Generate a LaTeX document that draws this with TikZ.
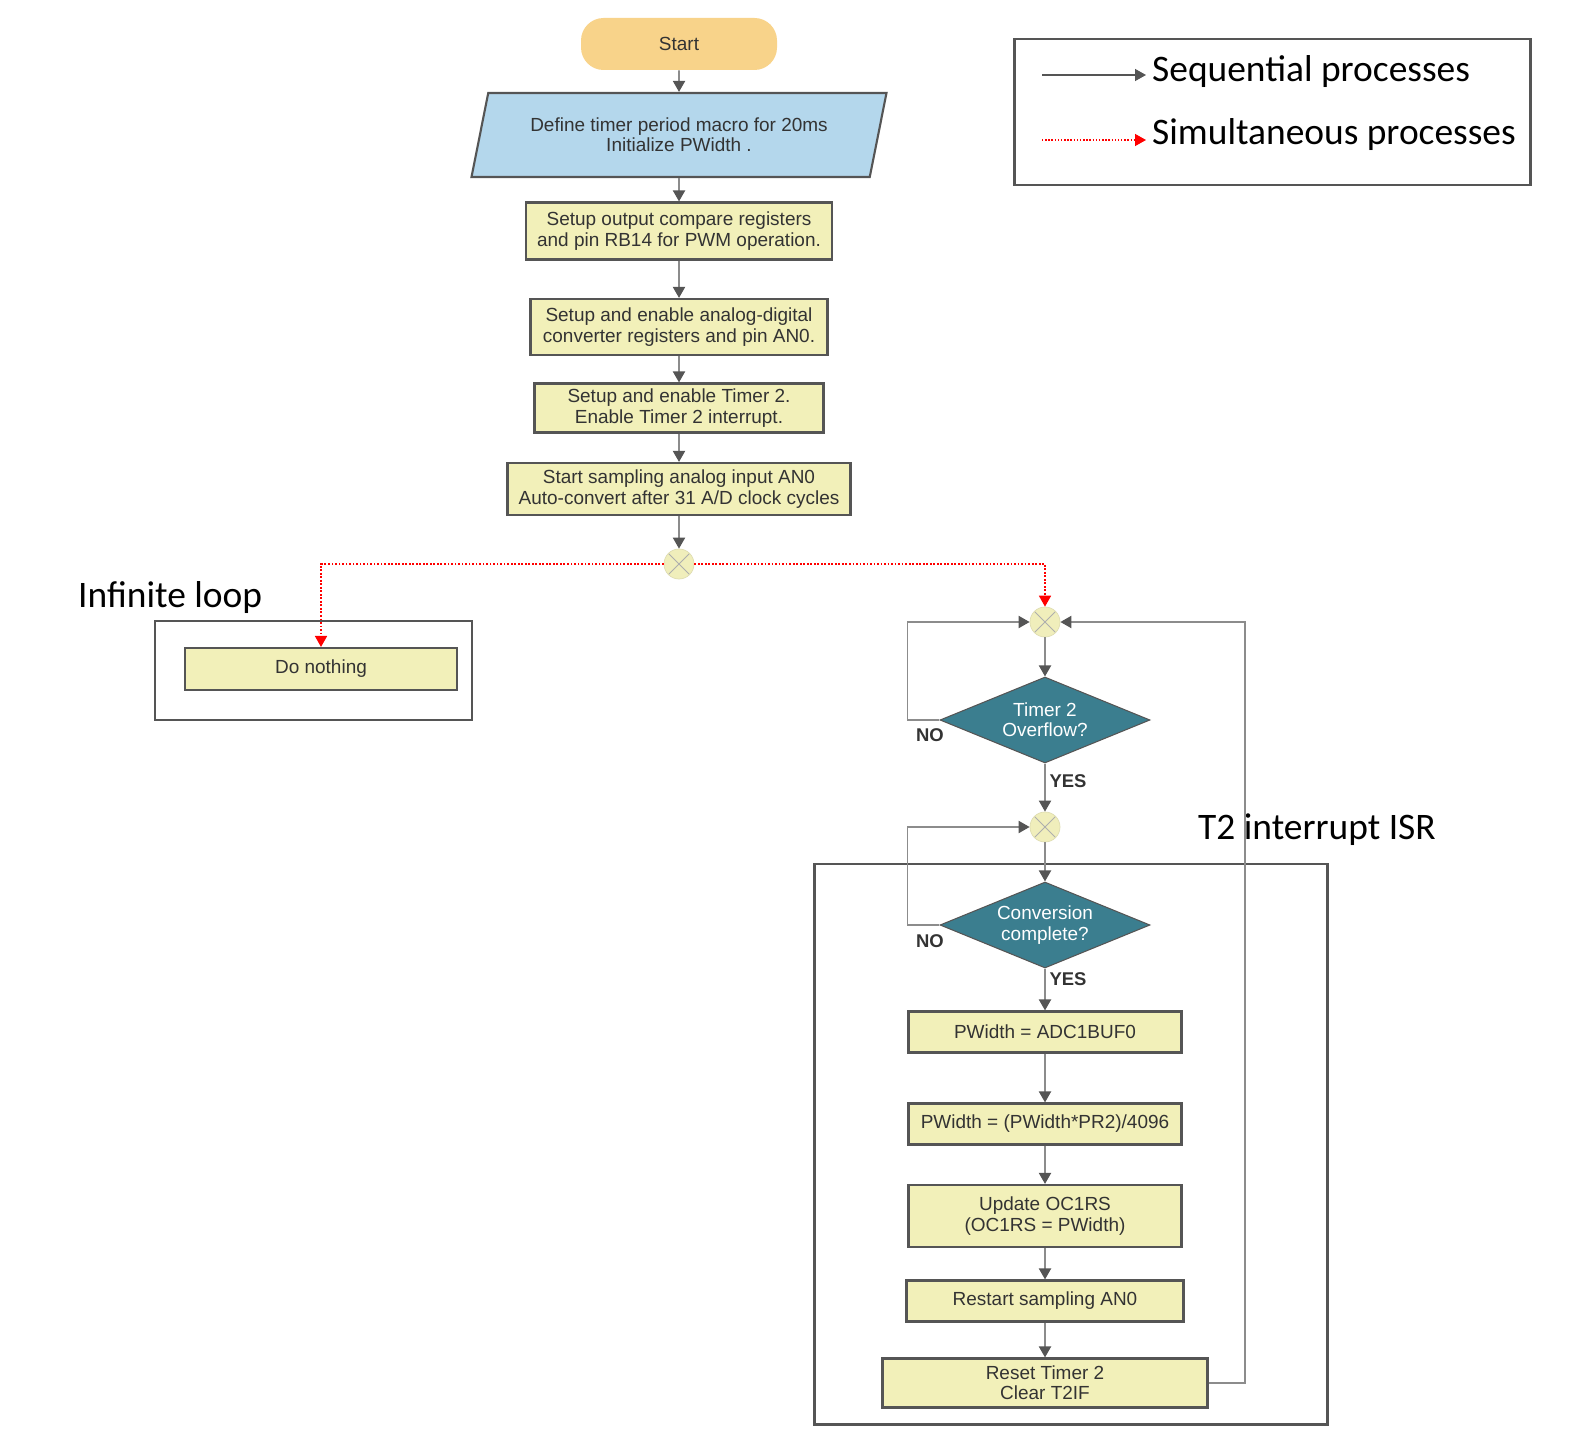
\documentclass[tikz,border=0pt]{standalone}
\usepackage{fontspec}
\setmainfont{Liberation Sans}
\newfontfamily\calibri{Carlito}
\usepackage{tikz}
\usetikzlibrary{positioning,shapes,arrows,arrows.meta,calc}
\definecolor{startorange}{HTML}{F8D38A}
\definecolor{ioblue}{HTML}{B4D7EC}
\definecolor{boxyellow}{HTML}{F2F0B9}
\definecolor{decteal}{HTML}{3B7E8F}
\definecolor{joinyellow}{HTML}{F0EEBB}
\definecolor{edgegray}{HTML}{555555}
\definecolor{linegray}{HTML}{8C8C8C}
\definecolor{textdark}{HTML}{333333}

\begin{document}
\begin{tikzpicture}[x=0.2mm, y=-0.2mm,
  font=\fontsize{10.8}{11.6}\selectfont,
  flow/.style={draw=linegray, line width=1.1pt, -{Triangle[length=2.2mm, width=2.4mm, color=edgegray]}},
  simul/.style={draw=red, densely dotted, line width=1pt, -{Triangle[length=2.2mm, width=2.4mm, color=red]}},
  process/.style={draw=edgegray, fill=boxyellow, line width=1.2pt, text=textdark, align=center, inner sep=0.5mm},
  term/.style={fill=startorange, rounded corners=4.5mm, text=textdark, minimum width=39.2mm, minimum height=10.4mm},
  io/.style={trapezium, trapezium left angle=70, trapezium right angle=110, trapezium stretches body,
    draw=edgegray, fill=ioblue, line width=1.2pt, text=textdark, align=center, minimum width=83mm, minimum height=16.8mm},
  decision/.style={diamond, aspect=2.44, fill=decteal, draw=edgegray, line width=0.6pt, text=white, align=center, inner sep=0,
    minimum width=42mm, minimum height=17.2mm},
  junction/.style={circle, fill=joinyellow, draw=joinyellow!85!gray, minimum size=6mm, inner sep=0,
    path picture={\draw[linegray!70, line width=0.5pt]
      ($(path picture bounding box.center)+(-2.1mm,-2.1mm)$) -- ($(path picture bounding box.center)+(2.1mm,2.1mm)$)
      ($(path picture bounding box.center)+(-2.1mm,2.1mm)$) -- ($(path picture bounding box.center)+(2.1mm,-2.1mm)$);}},
  answer/.style={font=\fontsize{10.5}{11}\selectfont\bfseries, text=textdark},
  frame/.style={draw=edgegray, line width=1.7pt},
  bigtext/.style={font=\calibri\fontsize{21.3}{24}\selectfont, text=black}]
  \useasboundingbox (0,0) rectangle (1576,1438);

  % initialisation
  \node[term] (start) at (679,44) {Start};
  \node[io] (define) at (679,135) {Define timer period macro for 20ms\\Initialize PWidth .};
  \node[process, minimum width=61.2mm, minimum height=11.4mm] (setoc) at (679,231) {Setup output compare registers\\and pin RB14 for PWM operation.};
  \node[process, minimum width=59.4mm, minimum height=11.2mm] (setadc) at (679,327) {Setup and enable analog-digital\\converter registers and pin AN0.};
  \node[process, minimum width=57.8mm, minimum height=9.8mm] (settmr) at (679,408) {Setup and enable Timer 2.\\Enable Timer 2 interrupt.};
  \node[process, minimum width=68.6mm, minimum height=10.4mm] (sample) at (679,489) {Start sampling analog input AN0\\Auto-convert after 31 A/D clock cycles};
  \node[junction] (fork) at (679,564) {};

  \draw[flow] (start) -- (define);
  \draw[flow] (define) -- (setoc);
  \draw[flow] (setoc) -- (setadc);
  \draw[flow] (setadc) -- (settmr);
  \draw[flow] (settmr) -- (sample);
  \draw[flow] (sample) -- (fork);

  % main loop
  \node[process, minimum width=54.4mm, minimum height=8.4mm] (idle) at (321,669) {Do nothing};
  \draw[frame] (155,621) rectangle (472,720);
  \node[bigtext, anchor=west] (looplbl) at (72,598) {Infinite loop};
  \draw[simul] (fork.west) -| (idle.north);

  % interrupt
  \node[junction] (join1) at (1045,622) {};
  \node[decision] (tmrq) at (1045,720) {Timer 2\\Overflow?};
  \node[junction] (join2) at (1045,827) {};
  \node[decision] (adcq) at (1045,925) {Conversion\\complete?};
  \node[process, minimum width=54.6mm, minimum height=8.2mm] (readbuf) at (1045,1032) {PWidth = ADC1BUF0};
  \node[process, minimum width=54.6mm, minimum height=8.2mm] (scale) at (1045,1124) {PWidth = (PWidth*PR2)/4096};
  \node[process, minimum width=54.6mm, minimum height=12.4mm] (update) at (1045,1216) {Update OC1RS\\(OC1RS = PWidth)};
  \node[process, minimum width=55.4mm, minimum height=8.2mm] (restart) at (1045,1301) {Restart sampling AN0};
  \node[process, minimum width=65mm, minimum height=9.8mm] (reset) at (1045,1383) {Reset Timer 2\\Clear T2IF};
  \draw[frame] (814,864) rectangle (1327,1424);
  \node[bigtext, anchor=west] (isrlbl) at (1192,830) {T2 interrupt ISR};

  \draw[simul] (fork.east) -| (join1.north);
  \draw[flow] (join1) -- (tmrq);
  \draw[flow] (tmrq.west) -- ++(-32,0) |- (join1.west);
  \node[answer] (no1) at (930,735) {NO};
  \draw[flow] (tmrq) -- (join2);
  \node[answer] (yes1) at (1068,781) {YES};
  \draw[flow] (join2) -- (adcq);
  \draw[flow] (adcq.west) -- ++(-32,0) |- (join2.west);
  \node[answer] (no2) at (930,941) {NO};
  \draw[flow] (adcq) -- (readbuf);
  \node[answer] (yes2) at (1068,979) {YES};
  \draw[flow] (readbuf) -- (scale);
  \draw[flow] (scale) -- (update);
  \draw[flow] (update) -- (restart);
  \draw[flow] (restart) -- (reset);
  \draw[flow] (reset.east) -- ++(36,0) |- (join1.east);

  % legend
  \draw[frame] (1014,39) rectangle (1530,185);
  \node[bigtext, anchor=west] (seqtxt) at (1146,72) {Sequential processes};
  \node[bigtext, anchor=west] (simtxt) at (1146,135) {Simultaneous processes};
  \coordinate (seqtail) at (1042,75);
  \coordinate (simtail) at (1042,140);
  \draw[flow, draw=edgegray, line width=0.8pt] (seqtail) -- (seqtail -| seqtxt.west);
  \draw[simul, line width=0.8pt] (simtail) -- (simtail -| simtxt.west);
\end{tikzpicture}
\end{document}
